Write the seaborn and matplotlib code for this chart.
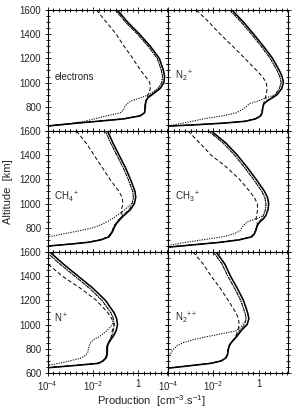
import numpy as np
import matplotlib
matplotlib.use('Agg')
import matplotlib.pyplot as plt
import seaborn as sns
from matplotlib.ticker import FixedLocator, FixedFormatter, NullFormatter

sns.set_theme(style="ticks")
plt.rcParams['font.family'] = ['Liberation Sans', 'DejaVu Sans']
plt.rcParams['mathtext.fontset'] = 'custom'
plt.rcParams['mathtext.rm'] = 'Liberation Sans'
plt.rcParams['mathtext.default'] = 'regular'

# altitude grid (km) shared by every curve
alt_km = [1600, 1500, 1400, 1300, 1200, 1100, 1050, 1000, 950, 900, 875, 850,
          825, 800, 775, 750, 725, 700, 680, 665, 650, 640, 630]

# log10 production [cm-3 s-1]
# solid = thick line, thin = close thin line, dotted = line with low bump, dashed
electrons_solid = [-0.93, -0.48, 0.05, 0.52, 0.92, 1.10, 1.15, 1.12, 0.95, 0.60, 0.42, 0.34, 0.31, 0.30, 0.29, 0.27, 0.08, -0.65, -1.80, -2.70, -3.50, -4.05, -5.00]
electrons_thin = [-1.02, -0.57, -0.04, 0.43, 0.83, 1.01, 1.06, 1.03, 0.86, 0.54, 0.39, 0.32, 0.29, 0.28, 0.27, 0.25, 0.05, -0.70, -1.85, -2.75, -3.55, -4.10, -5.00]
electrons_dotted = [-1.02, -0.57, -0.04, 0.43, 0.83, 1.01, 1.06, 1.03, 0.86, 0.45, 0.12, -0.30, -0.50, -0.60, -0.66, -0.80, -1.40, -1.95, -2.35, -2.90, -3.60, -4.10, -5.00]
electrons_dashed = [-1.85, -1.41, -0.98, -0.63, -0.25, 0.10, 0.31, 0.50, 0.52, 0.42, 0.37, 0.33, 0.30, 0.29, 0.28, 0.26, 0.07, -0.66, -1.81, -2.71, -3.51, -4.06, -5.00]

n2p_solid = [-1.19, -0.68, -0.23, 0.20, 0.60, 0.90, 1.02, 1.08, 1.00, 0.80, 0.60, 0.38, 0.22, 0.18, 0.16, 0.14, 0.08, -0.15, -0.60, -1.55, -2.90, -4.05, -5.00]
n2p_thin = [-1.29, -0.78, -0.33, 0.10, 0.50, 0.80, 0.92, 0.98, 0.90, 0.72, 0.54, 0.34, 0.19, 0.16, 0.14, 0.12, 0.06, -0.18, -0.65, -1.60, -2.95, -4.10, -5.00]
n2p_dotted = [-1.29, -0.78, -0.33, 0.10, 0.50, 0.80, 0.92, 0.98, 0.90, 0.70, 0.35, 0.00, -0.43, -0.55, -0.75, -1.00, -1.60, -2.45, -2.95, -3.35, -3.77, -4.10, -5.00]
n2p_dashed = [-2.75, -2.20, -1.70, -1.15, -0.62, -0.10, 0.15, 0.32, 0.36, 0.32, 0.28, 0.24, 0.21, 0.17, 0.15, 0.13, 0.07, -0.16, -0.62, -1.57, -2.92, -4.07, -5.00]

ch4p_solid = [-1.36, -1.12, -0.85, -0.58, -0.35, -0.15, -0.12, -0.18, -0.35, -0.65, -0.78, -0.90, -1.00, -1.07, -1.12, -1.20, -1.30, -1.65, -2.20, -3.00, -3.90, -4.50, -5.00]
ch4p_thin = [-1.46, -1.22, -0.95, -0.68, -0.45, -0.25, -0.22, -0.26, -0.42, -0.70, -0.82, -0.94, -1.04, -1.11, -1.16, -1.24, -1.34, -1.70, -2.25, -3.05, -3.95, -4.55, -5.00]
ch4p_dotted = [-1.46, -1.22, -0.95, -0.68, -0.45, -0.25, -0.22, -0.30, -0.60, -0.95, -1.15, -1.38, -1.65, -2.00, -2.60, -3.30, -3.95, -5.00, -5.50, -6.00, -6.00, -6.00, -6.00]
ch4p_dashed = [-2.73, -2.30, -1.95, -1.60, -1.25, -0.85, -0.72, -0.68, -0.75, -0.72, -0.82, -0.93, -1.03, -1.10, -1.15, -1.23, -1.33, -1.68, -2.23, -3.03, -3.93, -4.53, -5.00]

ch3p_solid = [-2.10, -1.45, -0.95, -0.52, -0.12, 0.25, 0.38, 0.43, 0.40, 0.30, 0.20, 0.05, -0.05, -0.10, -0.14, -0.20, -0.32, -0.87, -1.70, -2.55, -3.40, -4.00, -5.00]
ch3p_thin = [-2.22, -1.57, -1.07, -0.64, -0.24, 0.13, 0.26, 0.31, 0.29, 0.20, 0.12, 0.00, -0.08, -0.12, -0.16, -0.22, -0.35, -0.92, -1.75, -2.60, -3.45, -4.05, -5.00]
ch3p_dotted = [-2.22, -1.57, -1.07, -0.64, -0.24, 0.13, 0.26, 0.31, 0.29, 0.18, -0.10, -0.50, -0.65, -0.75, -0.83, -1.10, -1.60, -2.50, -3.20, -3.65, -4.15, -5.00, -5.50]
ch3p_dashed = [-3.12, -2.60, -2.10, -1.42, -0.85, -0.40, -0.20, -0.07, -0.06, -0.10, -0.13, -0.09, -0.06, -0.11, -0.15, -0.21, -0.33, -0.89, -1.72, -2.57, -3.42, -4.02, -5.00]

np_solid = [-3.90, -3.30, -2.65, -2.00, -1.45, -1.08, -0.96, -0.92, -0.98, -1.12, -1.22, -1.30, -1.36, -1.37, -1.37, -1.38, -1.42, -1.55, -1.75, -2.60, -3.55, -4.20, -5.00]
np_thin = [-4.05, -3.45, -2.80, -2.15, -1.60, -1.22, -1.10, -1.06, -1.10, -1.18, -1.26, -1.33, -1.39, -1.40, -1.40, -1.41, -1.45, -1.58, -1.80, -2.65, -3.60, -4.25, -5.00]
np_dotted = [-4.05, -3.45, -2.80, -2.15, -1.60, -1.22, -1.10, -1.15, -1.38, -1.72, -1.98, -2.10, -2.17, -2.20, -2.22, -2.30, -2.50, -3.00, -3.50, -3.92, -4.40, -5.00, -5.50]
np_dashed = [-4.60, -3.98, -3.35, -2.55, -1.85, -1.35, -1.18, -1.07, -1.15, -1.20, -1.26, -1.32, -1.38, -1.39, -1.39, -1.40, -1.44, -1.57, -1.78, -2.63, -3.58, -4.23, -5.00]

n2pp_solid = [-1.88, -1.50, -1.25, -0.95, -0.68, -0.50, -0.44, -0.52, -0.78, -0.98, -1.10, -1.22, -1.30, -1.34, -1.36, -1.38, -1.45, -1.65, -2.10, -2.80, -3.50, -4.00, -5.00]
n2pp_thin = [-2.00, -1.62, -1.37, -1.07, -0.80, -0.62, -0.56, -0.62, -0.85, -1.02, -1.13, -1.24, -1.32, -1.36, -1.38, -1.40, -1.47, -1.68, -2.14, -2.84, -3.54, -4.05, -5.00]
n2pp_dotted = [-2.00, -1.62, -1.37, -1.07, -0.80, -0.62, -0.56, -0.70, -0.95, -2.30, -2.90, -3.35, -3.60, -3.75, -3.85, -3.90, -4.00, -4.30, -5.00, -5.50, -6.00, -6.00, -6.00]
n2pp_dashed = [-2.90, -2.45, -2.10, -1.70, -1.35, -1.02, -0.90, -0.87, -0.93, -1.02, -1.12, -1.23, -1.31, -1.35, -1.37, -1.39, -1.46, -1.66, -2.12, -2.82, -3.52, -4.02, -5.00]

panel_labels = ['electrons', 'N$_2$$^+$', 'CH$_4$$^+$', 'CH$_3$$^+$', 'N$^+$', 'N$_2$$^{++}$']
panel_data = [
    (electrons_solid, electrons_thin, electrons_dotted, electrons_dashed),
    (n2p_solid, n2p_thin, n2p_dotted, n2p_dashed),
    (ch4p_solid, ch4p_thin, ch4p_dotted, ch4p_dashed),
    (ch3p_solid, ch3p_thin, ch3p_dotted, ch3p_dashed),
    (np_solid, np_thin, np_dotted, np_dashed),
    (n2pp_solid, n2pp_thin, n2pp_dotted, n2pp_dashed),
]

x_ticks = [1e-4, 1e-2, 1]
x_ticklabels = ['10$^{-4}$', '10$^{-2}$', '1']
y_ticks = [600, 800, 1000, 1200, 1400, 1600]

fig = plt.figure(figsize=(2.92, 4.11), dpi=100)
col_x = [0.1627, 0.5753]
width = 0.4127
height = 0.2944
top = 0.9757

for i, (label, curves) in enumerate(zip(panel_labels, panel_data)):
    row, col = divmod(i, 2)
    ax = fig.add_axes([col_x[col], top - (row + 1) * height, width, height])
    solid, thin, dotted, dashed = curves
    styles = [
        (dotted, (0, (1, 1.2)), 0.8),
        (dashed, (0, (4, 2.5)), 0.7),
        (thin, (0, (4, 1, 1, 1)), 0.6),
        (solid, '-', 1.15),
    ]
    for vals, ls, lw in styles:
        sns.lineplot(x=10 ** np.array(vals), y=alt_km, sort=False, estimator=None,
                     ax=ax, color='black', linewidth=lw, linestyle=ls)
    ax.set_xscale('log')
    ax.set_xlim(1e-4, 20)
    ax.set_ylim(600, 1600)

    ax.xaxis.set_major_locator(FixedLocator(x_ticks))
    minor = [10 ** e for e in np.arange(-4, 1.4, 0.25) if e not in (-4, -2, 0)]
    ax.xaxis.set_minor_locator(FixedLocator(minor))
    ax.xaxis.set_minor_formatter(NullFormatter())
    if row == 2:
        ax.xaxis.set_major_formatter(FixedFormatter(x_ticklabels))
    else:
        ax.xaxis.set_major_formatter(NullFormatter())

    ax.yaxis.set_major_locator(FixedLocator(y_ticks))
    ax.yaxis.set_minor_locator(FixedLocator(list(range(600, 1601, 50))))
    if col == 0:
        ylabels = [str(v) for v in y_ticks]
        if row < 2:
            ylabels[0] = ''
        ax.yaxis.set_major_formatter(FixedFormatter(ylabels))
    else:
        ax.yaxis.set_major_formatter(NullFormatter())

    ax.tick_params(which='both', direction='inout', top=True, right=True,
                   labelsize=7, width=0.6, color='black', pad=2)
    ax.tick_params(which='major', length=5)
    ax.tick_params(which='minor', length=3)
    for sp in ax.spines.values():
        sp.set_linewidth(0.8)
        sp.set_color('black')
    ax.set_xlabel('')
    ax.set_ylabel('')
    ax.text(0.055, 0.45, label, transform=ax.transAxes, fontsize=7, va='center')

fig.text(0.027, 0.534, 'Altitude  [km]', rotation=90, fontsize=8, ha='center', va='center')
fig.text(0.52, 0.024, 'Production  [cm$^{-3}$.s$^{-1}$]', fontsize=8, ha='center', va='center')

fig.savefig('out.png', dpi=100)
